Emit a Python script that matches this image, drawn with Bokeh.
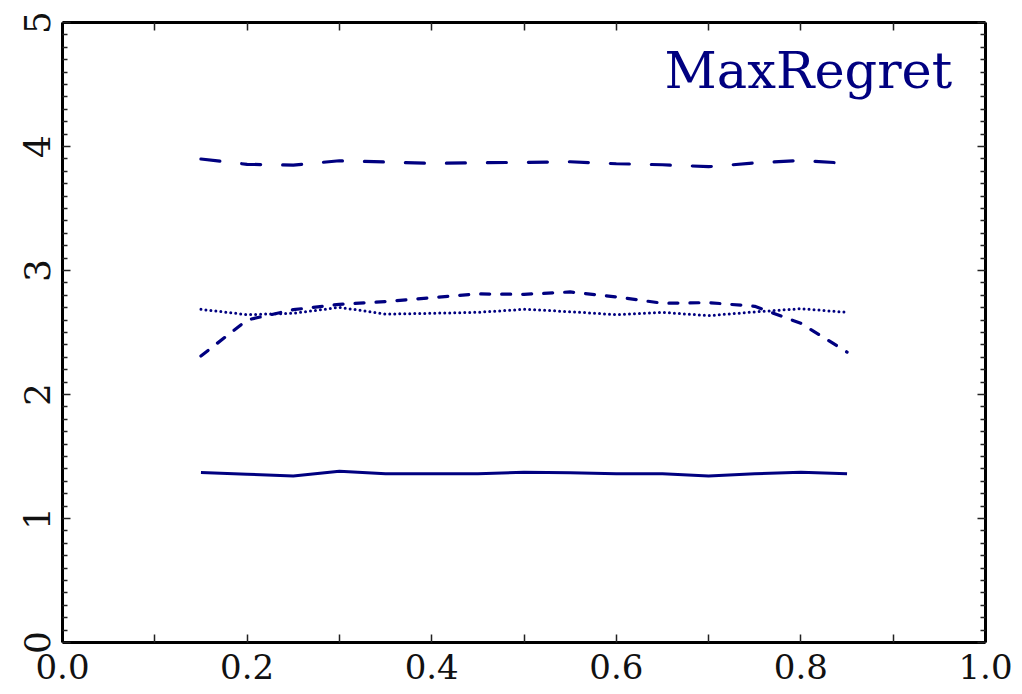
from bokeh.plotting import figure
from bokeh.models import LinearAxis, FixedTicker, Label, Range1d
from bokeh.embed import file_html
from bokeh.resources import INLINE

# ---- data ----
x_vals = [0.15, 0.20, 0.25, 0.30, 0.35, 0.40, 0.45, 0.50, 0.55, 0.60, 0.65, 0.70, 0.75, 0.80, 0.85]
solid_vals = [1.371, 1.357, 1.343, 1.381, 1.360, 1.360, 1.360, 1.373, 1.368, 1.360, 1.360, 1.343, 1.360, 1.373, 1.360]
longdash_vals = [3.899, 3.856, 3.850, 3.885, 3.875, 3.864, 3.869, 3.872, 3.877, 3.861, 3.853, 3.837, 3.867, 3.888, 3.864]
dash_vals = [2.310, 2.601, 2.684, 2.727, 2.749, 2.781, 2.811, 2.808, 2.827, 2.787, 2.736, 2.741, 2.711, 2.574, 2.342]
dot_vals = [2.687, 2.644, 2.655, 2.703, 2.649, 2.655, 2.663, 2.687, 2.668, 2.644, 2.663, 2.636, 2.666, 2.692, 2.663]

x_major = [0.0, 0.2, 0.4, 0.6, 0.8, 1.0]
x_minor = [0.1, 0.3, 0.5, 0.7, 0.9]
x_labels = ["0.0", "0.2", "0.4", "0.6", "0.8", "1.0"]
y_major = [0, 1, 2, 3, 4, 5]
y_minor = [i / 10 for i in range(0, 51) if i % 10 != 0]
y_labels = ["0", "1", "2", "3", "4", "5"]
title_text = "MaxRegret"

NAVY = "#000080"
FONT = "DejaVu Serif"

p = figure(width=1022, height=694, output_backend="svg", toolbar_location=None,
           x_range=Range1d(0, 1), y_range=Range1d(0, 5),
           min_border_left=62, min_border_right=37, min_border_top=22, min_border_bottom=52,
           x_axis_location=None, y_axis_location=None)
p.grid.visible = False
p.outline_line_color = None
p.background_fill_color = "white"
p.border_fill_color = "white"

def style(ax, ticks, minors, labels, lab_len, min_len, show, size):
    ax.ticker = FixedTicker(ticks=ticks, minor_ticks=minors)
    ax.axis_line_width = 3
    ax.axis_line_color = "black"
    ax.major_tick_in = lab_len
    ax.major_tick_out = 0
    ax.minor_tick_in = min_len
    ax.minor_tick_out = 0
    ax.major_tick_line_width = 1.5
    ax.minor_tick_line_width = 1.5
    ax.major_tick_line_color = "#222222"
    ax.minor_tick_line_color = "#222222"
    ax.major_label_text_font = FONT
    ax.major_label_text_color = "#111111"
    ax.major_label_text_font_size = size
    if show:
        ax.major_label_overrides = {t: l for t, l in zip(ticks, labels)}
    else:
        ax.major_label_overrides = {t: "" for t in ticks}

xb = LinearAxis()
style(xb, x_major, x_minor, x_labels, 8, 8, True, "34px")
xb.major_label_standoff = 11
p.add_layout(xb, "below")

xt = LinearAxis()
style(xt, x_major, x_minor, x_labels, 8, 8, False, "34px")
p.add_layout(xt, "above")

yl = LinearAxis()
style(yl, y_major, y_minor, y_labels, 8, 5, True, "36px")
yl.major_label_orientation = "vertical"
yl.major_label_standoff = 13
p.add_layout(yl, "left")

yr = LinearAxis()
style(yr, y_major, y_minor, y_labels, 8, 5, False, "36px")
p.add_layout(yr, "right")

p.line(x_vals, solid_vals, line_color=NAVY, line_width=3)
p.line(x_vals, longdash_vals, line_color=NAVY, line_width=3.2, line_dash="19 22", line_cap="round")
p.line(x_vals, dash_vals, line_color=NAVY, line_width=3.2, line_dash="9 12", line_cap="round")
p.line(x_vals, dot_vals, line_color=NAVY, line_width=3, line_dash="0 5", line_cap="round")

p.add_layout(Label(x=0.964, y=4.615, text=title_text, text_align="right",
                   text_baseline="alphabetic", text_color=NAVY, text_font=FONT,
                   text_font_size="51px"))

open("out.html", "w").write(file_html(p, INLINE))
